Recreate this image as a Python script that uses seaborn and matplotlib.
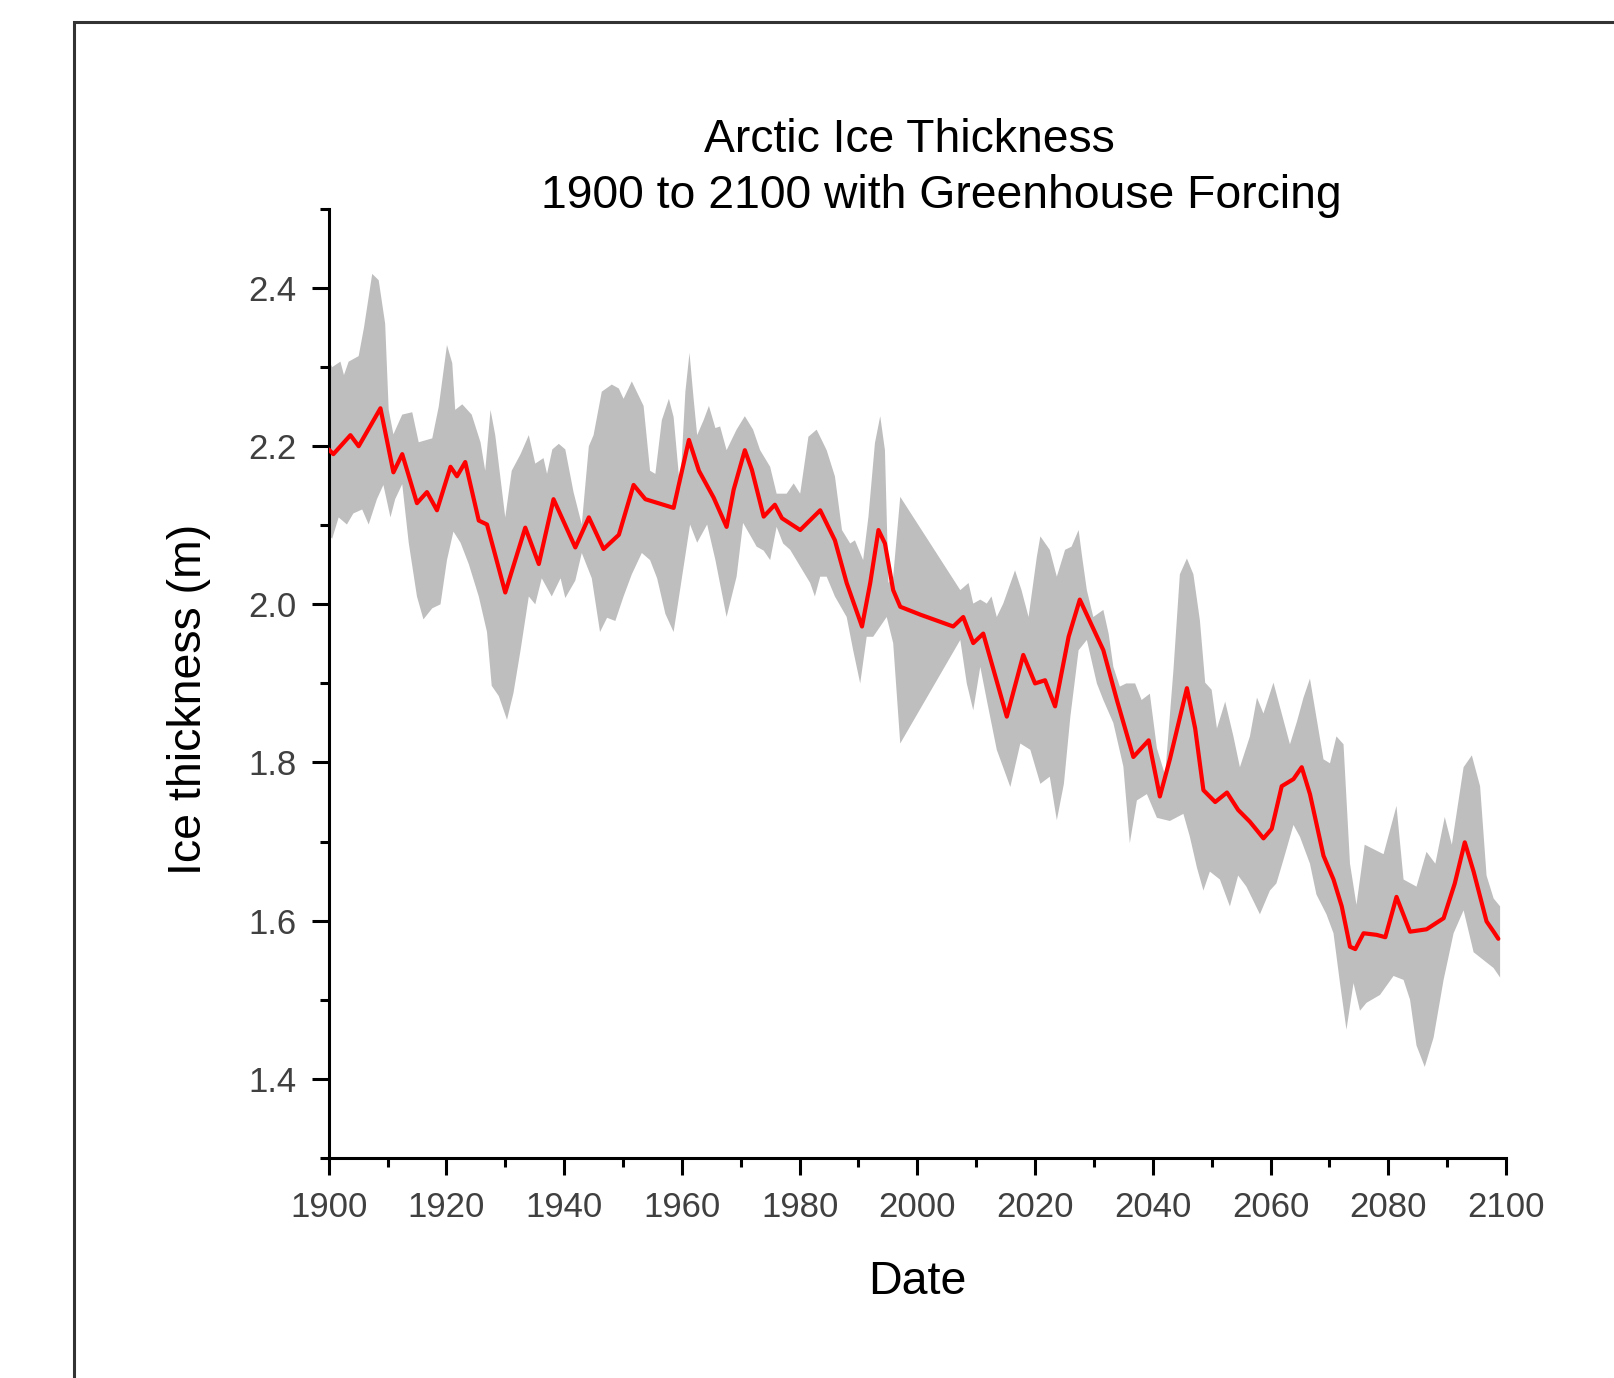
import numpy as np
import pandas as pd
import seaborn as sns
import matplotlib.pyplot as plt
from matplotlib.patches import Rectangle
from matplotlib.ticker import FormatStrFormatter, MultipleLocator

# Ensemble mean (red line)
mean_years = [1900, 1900.8, 1903.7, 1905.1, 1908.8, 1911.0, 1912.5, 1915.0, 1916.7, 1918.4,
              1920.7, 1921.8, 1923.2, 1925.5, 1926.9, 1930.0, 1933.4, 1935.7, 1938.2, 1941.9,
              1944.2, 1946.7, 1949.3, 1951.8, 1953.8, 1958.6, 1961.2, 1962.9, 1965.4, 1967.6,
              1968.8, 1970.7, 1971.9, 1973.9, 1975.8, 1977, 1980.1, 1983.5, 1986, 1988,
              1990.6, 1992, 1993.4, 1994.5, 1995.9, 1997.1, 2000.5, 2006.1, 2007.8, 2009.5,
              2011.2, 2015.2, 2018, 2020, 2021.7, 2023.4, 2025.7, 2027.6, 2031.6, 2033.9,
              2036.7, 2039.3, 2041.2, 2042.9, 2045.8, 2047.2, 2048.6, 2050.6, 2052.6, 2054.5,
              2056.5, 2058.8, 2060.2, 2061.9, 2063.9, 2065.3, 2066.7, 2069, 2070.7, 2072.1,
              2073.5, 2074.4, 2075.8, 2078, 2079.5, 2081.4, 2083.7, 2086.5, 2089.4, 2091.3,
              2093, 2094.5, 2096.7, 2097.9, 2098.7]
mean_thick = [2.196, 2.19, 2.214, 2.20, 2.248, 2.167, 2.19, 2.128, 2.142, 2.119,
              2.174, 2.162, 2.18, 2.106, 2.101, 2.015, 2.097, 2.051, 2.133, 2.072,
              2.110, 2.07, 2.088, 2.151, 2.133, 2.122, 2.208, 2.169, 2.135, 2.098,
              2.145, 2.195, 2.17, 2.111, 2.126, 2.109, 2.094, 2.119, 2.081, 2.027,
              1.972, 2.027, 2.094, 2.077, 2.018, 1.997, 1.987, 1.972, 1.984, 1.951,
              1.963, 1.858, 1.936, 1.9, 1.904, 1.871, 1.959, 2.006, 1.942, 1.879,
              1.807, 1.828, 1.757, 1.804, 1.894, 1.843, 1.765, 1.75, 1.762, 1.74,
              1.725, 1.704, 1.716, 1.77, 1.779, 1.794, 1.76, 1.682, 1.652, 1.618,
              1.567, 1.564, 1.584, 1.582, 1.579, 1.63, 1.586, 1.589, 1.603, 1.647,
              1.699, 1.662, 1.599, 1.586, 1.577]

# Upper edge of the spread (grey band)
upper_years = [1900, 1900.6, 1902, 1902.6, 1903.4, 1905.1, 1906, 1907.4, 1908.5, 1909.6,
               1910.2, 1911.0, 1912.5, 1914.2, 1915.3, 1917.6, 1918.7, 1920.1, 1921, 1921.5,
               1922.7, 1924.3, 1925.8, 1926.6, 1927.5, 1928.3, 1930, 1931.1, 1932.6, 1934,
               1935.1, 1936.5, 1937.1, 1938, 1939.1, 1940.2, 1941.6, 1943, 1944.2, 1945,
               1946.4, 1948.1, 1949.3, 1950.1, 1951.5, 1953.5, 1954.6, 1955.5, 1956.6, 1957.8,
               1958.6, 1959.7, 1960.6, 1961.3, 1962, 1962.6, 1963.7, 1964.6, 1965.7,
               1966.5, 1967.6, 1969.3, 1970.7, 1972.1, 1973.3, 1975, 1976.1, 1977.8, 1979,
               1980.1, 1981.5, 1982.9, 1984.6, 1986, 1987.2, 1988.6, 1989.4, 1990.8, 1991.7,
               1992.8, 1993.7, 1994.5, 1995.1, 1995.9, 1997.1, 2007.3, 2008.7, 2009.5, 2010.7,
               2011.8, 2012.6, 2013.5, 2014.6, 2016.6, 2017.7, 2018.9, 2020.3, 2020.9, 2022.5,
               2023.7, 2025.1, 2026.2, 2027.4, 2028, 2028.8, 2029.9, 2031.6, 2032.5, 2033.3,
               2034.4, 2035.5, 2037, 2038.1, 2039.5,
               2040.7, 2042.1, 2043.5, 2044.6, 2045.8, 2046.9, 2048, 2048.9, 2050, 2050.9,
               2052.3, 2053.7, 2054.8, 2056.5, 2057.7, 2058.8, 2060.5, 2061.9, 2063.3, 2064.5,
               2065.6, 2066.7, 2067.8, 2069, 2070.1, 2071.2, 2072.4, 2073.5, 2074.6, 2076,
               2079.2, 2081.4, 2082.6, 2084.8, 2086.5, 2088, 2089.6, 2090.8, 2092.8, 2094.2,
               2095.6, 2096.7, 2097.9, 2099]
upper_thick = [2.309, 2.30, 2.307, 2.29, 2.307, 2.314, 2.35, 2.418, 2.41, 2.355,
               2.246, 2.215, 2.24, 2.243, 2.205, 2.21, 2.25, 2.328, 2.305, 2.246,
               2.253, 2.24, 2.205, 2.169, 2.246, 2.214, 2.11, 2.169, 2.19, 2.214,
               2.178, 2.185, 2.165, 2.196, 2.203, 2.196, 2.142, 2.101, 2.2, 2.214,
               2.269, 2.278, 2.273, 2.26, 2.282, 2.251, 2.169, 2.165, 2.233, 2.26,
               2.237, 2.146, 2.269, 2.318, 2.26, 2.214, 2.233, 2.251, 2.223,
               2.225, 2.195, 2.221, 2.238, 2.221, 2.195, 2.174, 2.14, 2.14, 2.153,
               2.14, 2.212, 2.221, 2.195, 2.162, 2.094, 2.077, 2.081, 2.056, 2.111,
               2.204, 2.238, 2.195, 2.027, 2.035, 2.136, 2.018, 2.027, 2.001, 2.006,
               2.001, 2.01, 1.984, 2.001, 2.043, 2.018, 1.984, 2.06, 2.086, 2.069,
               2.035, 2.069, 2.073, 2.094, 2.06, 2.018, 1.984, 1.993, 1.963, 1.921,
               1.896, 1.9, 1.9, 1.879, 1.887,
               1.818, 1.784, 1.916, 2.038, 2.058, 2.038, 1.98, 1.901, 1.892, 1.843,
               1.877, 1.833, 1.794, 1.833, 1.882, 1.862, 1.901, 1.862, 1.823, 1.852,
               1.882, 1.906, 1.857, 1.804, 1.799, 1.833, 1.823, 1.672, 1.62, 1.696,
               1.684, 1.745, 1.652, 1.643, 1.687, 1.672, 1.731, 1.696, 1.794, 1.809,
               1.77, 1.657, 1.628, 1.618]

# Lower edge of the spread
lower_years = [1900, 1900.6, 1901.7, 1903.1, 1904.2, 1905.7, 1906.8, 1908.2, 1909.3, 1910.5,
               1911.3, 1912.5, 1913.6, 1915, 1916.1, 1917.6, 1919, 1920.1, 1921.2, 1922.4,
               1923.8, 1925.5, 1926.9, 1927.7, 1928.9, 1930.3, 1931.4, 1932.6, 1934, 1935.1,
               1936.2, 1937.9, 1939.4, 1940.2, 1941.9, 1943, 1944.7, 1946.1, 1947.3, 1948.7,
               1950.1, 1951.5, 1953.2, 1954.6, 1955.8, 1957.2, 1958.6, 1960, 1961.4, 1962.6,
               1964.3, 1965.7,
               1967.6, 1969.3, 1970.4, 1972.1, 1972.7, 1973.9, 1975, 1976.1, 1977.2, 1978.4,
               1980.1, 1981.8, 1982.6, 1983.5, 1984.6, 1986, 1988, 1989.1, 1990.3, 1991.4,
               1992.5, 1993.7, 1994.8, 1995.9, 1997.1, 2007.3, 2008.4, 2009.5, 2010.7, 2011.8,
               2013.5, 2015.8, 2017.5, 2019.2, 2020.9, 2022.5, 2023.7, 2024.9, 2026, 2027.4,
               2028.8, 2030.5, 2031.6, 2033.3, 2035, 2036.1, 2037.3, 2039, 2040.7, 2042.9,
               2045.2, 2046.3, 2047.5, 2048.6, 2049.7, 2051.4, 2053.1, 2054.5, 2055.9, 2058.2,
               2059.9, 2061, 2062.2, 2063.9, 2065, 2066.7, 2067.8, 2069.5, 2070.7, 2071.8,
               2072.9, 2074.1, 2075.2, 2076.3, 2078.6, 2080.9, 2082.6, 2083.7, 2084.8, 2086.2,
               2087.7, 2089.4, 2091.1, 2092.8, 2094.5, 2096.2, 2097.9, 2099]
lower_thick = [2.088, 2.083, 2.11, 2.101, 2.115, 2.12, 2.101, 2.133, 2.151, 2.11,
               2.133, 2.152, 2.078, 2.01, 1.981, 1.995, 2.0, 2.056, 2.092, 2.078,
               2.051, 2.01, 1.965, 1.897, 1.884, 1.854, 1.888, 1.942, 2.01, 2.0,
               2.033, 2.01, 2.033, 2.008, 2.03, 2.065, 2.033, 1.965, 1.983, 1.979,
               2.01, 2.038, 2.065, 2.056, 2.033, 1.988, 1.965, 2.033, 2.101, 2.078,
               2.101, 2.056,
               1.984, 2.035, 2.103, 2.081, 2.073, 2.068, 2.056, 2.098, 2.077, 2.069,
               2.048, 2.027, 2.01, 2.035, 2.035, 2.01, 1.984, 1.942, 1.9, 1.959,
               1.959, 1.972, 1.984, 1.951, 1.824, 1.955, 1.9, 1.866, 1.921, 1.879,
               1.816, 1.769, 1.824, 1.816, 1.773, 1.782, 1.727, 1.773, 1.858, 1.942,
               1.955, 1.9, 1.879, 1.85, 1.795, 1.698, 1.752, 1.76, 1.73, 1.726,
               1.735, 1.706, 1.667, 1.638, 1.662, 1.652, 1.618, 1.657, 1.643, 1.608,
               1.638, 1.647, 1.677, 1.721, 1.706, 1.672, 1.633, 1.608, 1.584, 1.521,
               1.462, 1.521, 1.486, 1.496, 1.506, 1.53, 1.525, 1.5, 1.442, 1.415,
               1.452, 1.525, 1.584, 1.613, 1.56, 1.55, 1.54, 1.528]

x_major = list(range(1900, 2101, 20))
y_major = [1.4, 1.6, 1.8, 2.0, 2.2, 2.4]

sns.set_style("ticks")
plt.rcParams['font.family'] = ['Liberation Sans', 'DejaVu Sans']

fig = plt.figure(figsize=(16.15, 13.78), dpi=100)
ax = fig.add_axes([0.2035, 0.1598, 0.7290, 0.6885])

# grey spread band as one closed polygon
band_x = upper_years + lower_years[::-1]
band_y = upper_thick + lower_thick[::-1]
ax.fill(band_x, band_y, color="#bebebe", linewidth=0, zorder=1)

df = pd.DataFrame({"Date": mean_years, "Ice": mean_thick})
sns.lineplot(data=df, x="Date", y="Ice", color="#ff0000", linewidth=3.0, ax=ax, zorder=3)

ax.set_xlim(1900, 2100)
ax.set_ylim(1.3, 2.5)
ax.set_xticks(x_major)
ax.xaxis.set_minor_locator(MultipleLocator(10))
ax.set_yticks(y_major)
ax.yaxis.set_minor_locator(MultipleLocator(0.1))
ax.yaxis.set_major_formatter(FormatStrFormatter('%.1f'))

for side in ["top", "right"]:
    ax.spines[side].set_visible(False)
for side in ["left", "bottom"]:
    ax.spines[side].set_linewidth(2.2)
    ax.spines[side].set_color("black")

ax.tick_params(which="major", length=12, width=2.2, color="black", direction="out",
               labelsize=25, labelcolor="#404040")
ax.tick_params(which="minor", length=6.5, width=2.2, color="black", direction="out")
ax.tick_params(axis="x", which="major", pad=12)
ax.tick_params(axis="y", which="major", pad=11)

ax.set_xlabel("Date", fontsize=33.5, color="black")
ax.set_ylabel("Ice thickness (m)", fontsize=33.5, color="black")
ax.xaxis.set_label_coords(0.5, -0.1075)
ax.xaxis.label.set_va("top")
ax.yaxis.set_label_coords(-0.1, 0.483)

ax.text(0.493, 1.0597, "Arctic Ice Thickness", transform=ax.transAxes,
        ha="center", va="baseline", fontsize=33.3, color="black")
ax.text(0.520, 1.001, "1900 to 2100 with Greenhouse Forcing", transform=ax.transAxes,
        ha="center", va="baseline", fontsize=33.3, color="black")

# outer frame, open to the right and bottom edges
frame = Rectangle((74 / 1615, -0.1), 2, 0.984 + 0.1, transform=fig.transFigure,
                  fill=False, edgecolor="#333333", linewidth=2.2)
fig.add_artist(frame)

fig.savefig("out.png", dpi=100)
